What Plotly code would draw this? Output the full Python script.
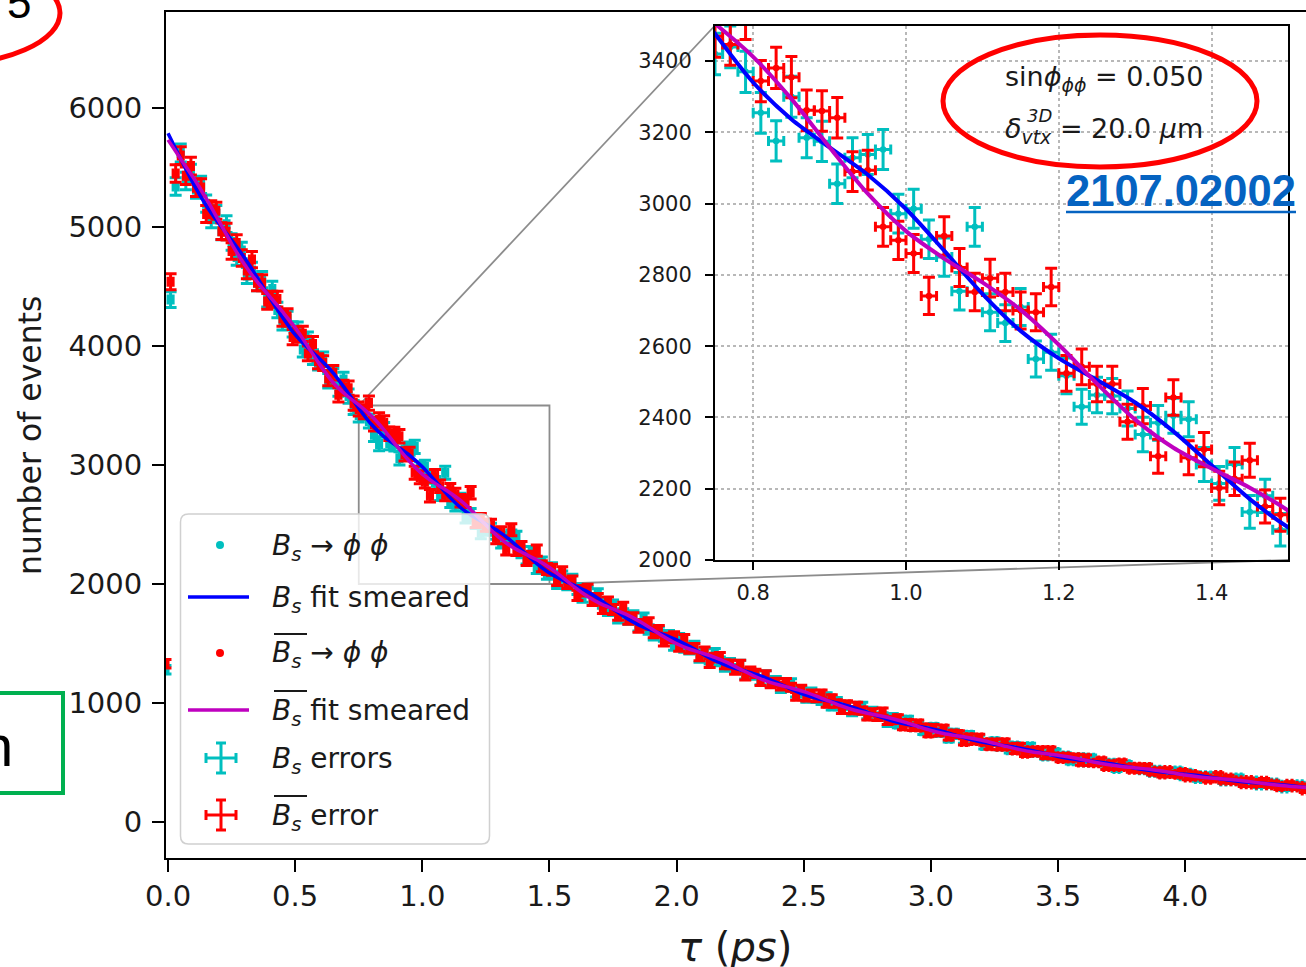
import plotly.graph_objects as go

# ---------------- data ----------------
# histogram bins: centres -0.01, 0.01, ..., 4.49 ps (width 0.02 ps)
tau_bins = [round(-0.01 + 0.02 * i, 2) for i in range(226)]

# B_s -> phi phi (cyan points)
bs_counts = [
    1280, 4390, 5340,
    5622, 5387, 5453, 5315, 5354, 5196, 5065, 5109, 4964, 5024,
    4874, 4747, 4802, 4592, 4635, 4532, 4558, 4393, 4478, 4302,
    4200, 4228, 4140, 4137, 3971, 4055, 3906, 3860, 3888, 3709,
    3750, 3639, 3718, 3579, 3483,
    3420, 3440, 3370, 3255, 3176, 3300, 3185, 3175, 3056, 3129,
    3138, 3152, 2972, 2986, 2900, 2850, 2754, 2935, 2695, 2665,
    2710, 2564, 2583, 2517, 2430, 2463, 2460, 2425, 2352, 2385,
    2405, 2395, 2268, 2215, 2268, 2135, 2180, 2085,
    2132, 2007, 2064, 1997, 2036, 1957, 1891, 1936, 1862, 1916,
    1839, 1777, 1823, 1713, 1751, 1704, 1734, 1646, 1714, 1618,
    1570, 1599, 1558, 1569, 1482, 1544, 1465, 1449, 1481, 1380,
    1419, 1364, 1421, 1349, 1302, 1338, 1288, 1322, 1236, 1252,
    1235, 1188, 1236, 1173, 1188, 1121, 1133, 1169, 1083, 1102,
    1039, 1092, 1036, 1019, 1053, 973, 1014, 975, 978, 924,
    934, 975, 897, 933, 882, 888, 831, 883, 820, 836,
    859, 797, 817, 762, 776, 800, 747, 762, 699, 751,
    732, 689, 734, 686, 702, 639, 669, 680, 633, 648,
    604, 643, 612, 589, 636, 581, 595, 550, 573, 588,
    541, 559, 510, 531, 545, 499, 540, 498, 506, 469,
    498, 445, 477, 486, 452, 456, 434, 463, 414, 439,
    405, 426, 408, 433, 385, 414, 391, 361, 392, 365,
    391, 369, 341, 365, 343, 375, 328, 335, 348, 307,
    329, 309, 332, 313, 282, 316, 294, 317, 275, 294,
]

# anti-B_s -> phi phi (red points)
bsbar_counts = [
    1330, 4540, 5450,
    5600, 5431, 5512, 5330, 5332, 5109, 5149, 5137, 4965, 4961,
    4798, 4866, 4739, 4634, 4726, 4532, 4532, 4374, 4394, 4394,
    4232, 4248, 4075, 4098, 4102, 3938, 4016, 3872, 3857, 3727,
    3775, 3590, 3652, 3646, 3520,
    3470, 3447, 3520, 3344, 3381, 3355, 3262, 3260, 3241, 3090,
    3094, 2935, 2897, 2860, 2741, 2909, 2821, 2752, 2791, 2752,
    2700, 2695, 2766, 2524, 2542, 2494, 2494, 2388, 2432, 2291,
    2456, 2287, 2310, 2202, 2228, 2280, 2150, 2127,
    2119, 2033, 2099, 2006, 2023, 1904, 1944, 1954, 1862, 1876,
    1794, 1847, 1786, 1738, 1805, 1704, 1718, 1634, 1660, 1675,
    1589, 1611, 1519, 1546, 1560, 1474, 1536, 1457, 1462, 1392,
    1433, 1335, 1381, 1388, 1324, 1324, 1278, 1322, 1229, 1266,
    1249, 1181, 1236, 1163, 1174, 1142, 1171, 1132, 1056, 1116,
    1049, 1076, 1043, 1077, 996, 1037, 995, 943, 988, 940,
    976, 936, 888, 921, 882, 927, 849, 856, 871, 803,
    833, 797, 828, 795, 743, 791, 753, 785, 716, 743,
    740, 673, 713, 681, 710, 670, 637, 670, 633, 671,
    632, 600, 635, 574, 604, 581, 605, 558, 605, 552,
    530, 552, 533, 545, 499, 540, 498, 494, 517, 462,
    490, 462, 500, 463, 439, 465, 440, 463, 418, 431,
    399, 436, 404, 397, 421, 374, 403, 381, 386, 355,
    365, 394, 347, 373, 343, 350, 317, 352, 316, 328,
    346, 309, 324, 291, 303, 321, 290, 302, 264, 300,
]

# smeared fit curves, sampled every 0.05 ps
fit_tau = [round(0.05 * i, 2) for i in range(91)]
bs_fit = [
    5788, 5571, 5362, 5181, 5029, 4890, 4743, 4578, 4405, 4242,
    4095, 3983, 3885, 3773, 3630, 3477, 3340, 3237, 3158, 3081,
    2985, 2868, 2747, 2643, 2566, 2505, 2442, 2361, 2266, 2171,
    2092, 2034, 1987, 1934, 1867, 1790, 1716, 1657, 1613, 1575,
    1531, 1476, 1414, 1357, 1312, 1279, 1249, 1212, 1166, 1117,
    1073, 1040, 1015, 990, 959, 922, 883, 849, 824, 805,
    784, 759, 728, 698, 672, 654, 638, 621, 600, 575,
    551, 532, 518, 506, 492, 474, 454, 436, 422, 411,
    401, 390, 375, 359, 345, 334, 326, 318, 308, 296, 284,
]
bsbar_fit = [
    5732, 5571, 5414, 5241, 5051, 4859, 4686, 4541, 4415, 4288,
    4155, 3996, 3833, 3691, 3588, 3505, 3412, 3294, 3158, 3028,
    2923, 2846, 2779, 2702, 2604, 2495, 2394, 2315, 2257, 2203,
    2139, 2058, 1971, 1894, 1835, 1790, 1747, 1692, 1626, 1557,
    1498, 1454, 1420, 1384, 1339, 1285, 1231, 1186, 1153, 1126,
    1096, 1058, 1015, 973, 939, 914, 893, 868, 837, 802,
    769, 744, 725, 708, 687, 661, 633, 608, 589, 575,
    561, 544, 523, 500, 481, 467, 456, 445, 430, 413,
    395, 381, 370, 362, 352, 340, 326, 313, 302, 294, 287,
]
assert len(bs_counts) == len(tau_bins) == len(bsbar_counts)
assert len(bs_fit) == len(fit_tau) == len(bsbar_fit)

main_xticks = [0.0, 0.5, 1.0, 1.5, 2.0, 2.5, 3.0, 3.5, 4.0]
main_xticklabels = ["0.0", "0.5", "1.0", "1.5", "2.0", "2.5", "3.0", "3.5", "4.0"]
main_yticks = [0, 1000, 2000, 3000, 4000, 5000, 6000]
main_yticklabels = ["0", "1000", "2000", "3000", "4000", "5000", "6000"]
inset_xticks = [0.8, 1.0, 1.2, 1.4]
inset_xticklabels = ["0.8", "1.0", "1.2", "1.4"]
inset_yticks = [2000, 2200, 2400, 2600, 2800, 3000, 3200, 3400]
inset_yticklabels = ["2000", "2200", "2400", "2600", "2800", "3000", "3200", "3400"]

BS = "<i>B</i><sub><i>s</i></sub>"
legend_labels = [
    BS + " → <i>ϕ</i> <i>ϕ</i>",
    BS + " fit smeared",
    BS + " → <i>ϕ</i> <i>ϕ</i>",
    BS + " fit smeared",
    BS + " errors",
    BS + " error",
]
legend_overlined = [False, False, True, True, False, True]

# ---------------- geometry ----------------
W, H = 1306, 967
PL, PR, PT, PB = 166, 1306, 12, 858          # main plot area in px


def fx(p):
    return (p - PL) / (PR - PL)


def fy(p):
    return (PB - p) / (PB - PT)


main_xrange = [-0.008, 4.475]
main_yrange = [-302.5, 6806.7]
inset_xrange = [0.75, 1.5]
inset_yrange = [2000, 3500]
IN_L, IN_R, IN_T, IN_B = 715, 1288, 25.5, 560

CYAN, RED, BLUE, MAG = "#00BFBF", "#FF0000", "#0000FF", "#BF00BF"
TXT = "#1a1a1a"

fig = go.Figure()


def add_series(xa, ya, thick, cap, lw):
    for counts, col in ((bs_counts, CYAN), (bsbar_counts, RED)):
        fig.add_trace(go.Scatter(
            x=tau_bins, y=counts, mode="markers",
            marker=dict(color=col, size=6.5),
            error_y=dict(type="sqrt", color=col, thickness=thick, width=cap),
            error_x=dict(type="constant", value=0.01, color=col, thickness=thick, width=cap - 1),
            xaxis=xa, yaxis=ya, showlegend=False, cliponaxis=True, hoverinfo="skip"))
    for fit, col in ((bs_fit, BLUE), (bsbar_fit, MAG)):
        fig.add_trace(go.Scatter(
            x=fit_tau, y=fit, mode="lines",
            line=dict(color=col, width=lw, shape="spline", smoothing=0.8),
            xaxis=xa, yaxis=ya, showlegend=False, hoverinfo="skip"))


add_series("x", "y", 3, 6, 3.5)
add_series("x2", "y2", 3, 6, 4)

axis_common = dict(showline=True, linewidth=2, linecolor="black", ticks="outside",
                   tickcolor="black", tickwidth=2, zeroline=False)

fig.update_layout(
    width=W, height=H,
    margin=dict(l=PL, r=W - PR, t=PT, b=H - PB, autoexpand=False),
    paper_bgcolor="white", plot_bgcolor="rgba(0,0,0,0)",
    showlegend=False,
    font=dict(family="DejaVu Sans", color=TXT),
    xaxis=dict(axis_common, range=main_xrange, domain=[0, 1], anchor="y",
               tickvals=main_xticks, ticktext=main_xticklabels, ticklen=12,
               mirror=True, showgrid=False, tickfont=dict(size=29, color=TXT),
               ticklabelstandoff=-1),
    yaxis=dict(axis_common, range=main_yrange, domain=[0, 1], anchor="x",
               tickvals=main_yticks, ticktext=main_yticklabels, ticklen=12,
               mirror=False, showgrid=False, tickfont=dict(size=29, color=TXT),
               ticklabelstandoff=4),
    xaxis2=dict(axis_common, range=inset_xrange, domain=[fx(IN_L), fx(IN_R)], anchor="y2",
                tickvals=inset_xticks, ticktext=inset_xticklabels, ticklen=8,
                mirror=True, showgrid=True, gridcolor="#b8b8b8", griddash="dot", gridwidth=1.5,
                tickfont=dict(size=21, color=TXT), ticklabelstandoff=5),
    yaxis2=dict(axis_common, range=inset_yrange, domain=[fy(IN_B), fy(IN_T)], anchor="x2",
                tickvals=inset_yticks, ticktext=inset_yticklabels, ticklen=8,
                mirror=True, showgrid=True, gridcolor="#b8b8b8", griddash="dot", gridwidth=1.5,
                tickfont=dict(size=21, color=TXT), ticklabelstandoff=9),
)

shapes = []
# zoom indicator rectangle and connector lines (main data coordinates)
GRAY = "#8c8c8c"
shapes.append(dict(type="rect", xref="x", yref="y", x0=inset_xrange[0], x1=inset_xrange[1],
                   y0=inset_yrange[0], y1=inset_yrange[1], line=dict(color=GRAY, width=1.8),
                   layer="below"))


def main_x_of_px(p):
    return main_xrange[0] + fx(p) * (main_xrange[1] - main_xrange[0])


def main_y_of_px(p):
    return main_yrange[0] + fy(p) * (main_yrange[1] - main_yrange[0])


shapes.append(dict(type="line", xref="x", yref="y", x0=inset_xrange[0], y0=inset_yrange[1],
                   x1=main_x_of_px(IN_L), y1=main_y_of_px(IN_T),
                   line=dict(color=GRAY, width=1.8), layer="below"))
shapes.append(dict(type="line", xref="x", yref="y", x0=inset_xrange[1], y0=inset_yrange[0],
                   x1=main_x_of_px(IN_R), y1=main_y_of_px(IN_B),
                   line=dict(color=GRAY, width=1.8), layer="below"))


def pline(x0, y0, x1, y1, color, width, layer="above"):
    shapes.append(dict(type="line", xref="paper", yref="paper", x0=fx(x0), y0=fy(y0),
                       x1=fx(x1), y1=fy(y1), line=dict(color=color, width=width), layer=layer))


# legend box (rounded)
LB_L, LB_R, LB_T, LB_B, RAD = 180.5, 489.5, 514, 844, 8
path = (f"M {fx(LB_L + RAD)},{fy(LB_T)} L {fx(LB_R - RAD)},{fy(LB_T)} "
        f"Q {fx(LB_R)},{fy(LB_T)} {fx(LB_R)},{fy(LB_T + RAD)} "
        f"L {fx(LB_R)},{fy(LB_B - RAD)} Q {fx(LB_R)},{fy(LB_B)} {fx(LB_R - RAD)},{fy(LB_B)} "
        f"L {fx(LB_L + RAD)},{fy(LB_B)} Q {fx(LB_L)},{fy(LB_B)} {fx(LB_L)},{fy(LB_B - RAD)} "
        f"L {fx(LB_L)},{fy(LB_T + RAD)} Q {fx(LB_L)},{fy(LB_T)} {fx(LB_L + RAD)},{fy(LB_T)} Z")
shapes.append(dict(type="path", xref="paper", yref="paper", path=path,
                   fillcolor="rgba(255,255,255,0.8)", line=dict(color="#d0d0d0", width=1.5),
                   layer="above"))

rows = [545, 597, 653, 710, 758, 815]
SX = 220
# symbols
for i, (kind, col) in enumerate([("dot", CYAN), ("line", BLUE), ("dot", RED),
                                 ("line", MAG), ("err", CYAN), ("err", RED)]):
    yc = rows[i]
    if kind == "dot":
        shapes.append(dict(type="circle", xref="paper", yref="paper",
                           x0=fx(SX - 4), x1=fx(SX + 4), y0=fy(yc + 4), y1=fy(yc - 4),
                           fillcolor=col, line=dict(color=col, width=0), layer="above"))
    elif kind == "line":
        pline(188, yc, 249, yc, col, 3.5)
    else:
        cx = SX + 1
        pline(cx, yc - 15, cx, yc + 15, col, 3)
        pline(cx - 15, yc, cx + 15, yc, col, 3)
        pline(cx - 5, yc - 15, cx + 5, yc - 15, col, 3)
        pline(cx - 5, yc + 15, cx + 5, yc + 15, col, 3)
        pline(cx - 15, yc - 5, cx - 15, yc + 5, col, 3)
        pline(cx + 15, yc - 5, cx + 15, yc + 5, col, 3)
    if legend_overlined[i]:
        pline(274, yc - 19, 307, yc - 19, TXT, 1.8)

# slide decorations
shapes.append(dict(type="circle", xref="paper", yref="paper", x0=fx(943), x1=fx(1257),
                   y0=fy(167), y1=fy(35), line=dict(color="#FF0000", width=5), layer="above"))
shapes.append(dict(type="circle", xref="paper", yref="paper", x0=fx(-180), x1=fx(60),
                   y0=fy(65), y1=fy(-39), line=dict(color="#FF0000", width=5), layer="above"))
shapes.append(dict(type="rect", xref="paper", yref="paper", x0=fx(-10), x1=fx(63),
                   y0=fy(793), y1=fy(693), line=dict(color="#00B050", width=4), layer="above"))
pline(1066, 212, 1296, 212, "#0563C1", 2.5)

fig.update_layout(shapes=shapes)

annotations = []


def text(xp, yp, t, size, xanchor="left", yanchor="middle", color=TXT, family=None, angle=0):
    f = dict(size=size, color=color)
    if family:
        f["family"] = family
    annotations.append(dict(xref="paper", yref="paper", x=fx(xp), y=fy(yp), text=t,
                            showarrow=False, xanchor=xanchor, yanchor=yanchor, font=f,
                            textangle=angle, borderpad=0))


for i, lab in enumerate(legend_labels):
    text(271, rows[i] + 2, lab, 28)

# axis titles
text(30, 436, "number of events", 31.5, xanchor="center", angle=-90)
text(735, 947, "<i>τ</i> (<i>ps</i>)", 40, xanchor="center")

# inset annotation
text(1004, 78, "sin<i>ϕ</i><sub><i>ϕϕ</i></sub> = 0.050", 27)
text(1004, 130, "<i>δ</i><sub><i>vtx</i></sub> = 20.0 <i>μ</i>m", 27)
text(1026, 115, "<i>3D</i>", 18)

# slide overlays
text(1065, 191, "<b>2107.02002</b>", 43.5, color="#0563C1", family="Liberation Sans")
text(6, 2, "5", 44, family="Liberation Sans", color="black")
text(14, 745, "n", 58, xanchor="right", family="Liberation Sans", color="black")

fig.update_layout(annotations=annotations)

fig.write_html("out.html", config={"displayModeBar": False},
               post_script="document.body.style.margin='0';")
